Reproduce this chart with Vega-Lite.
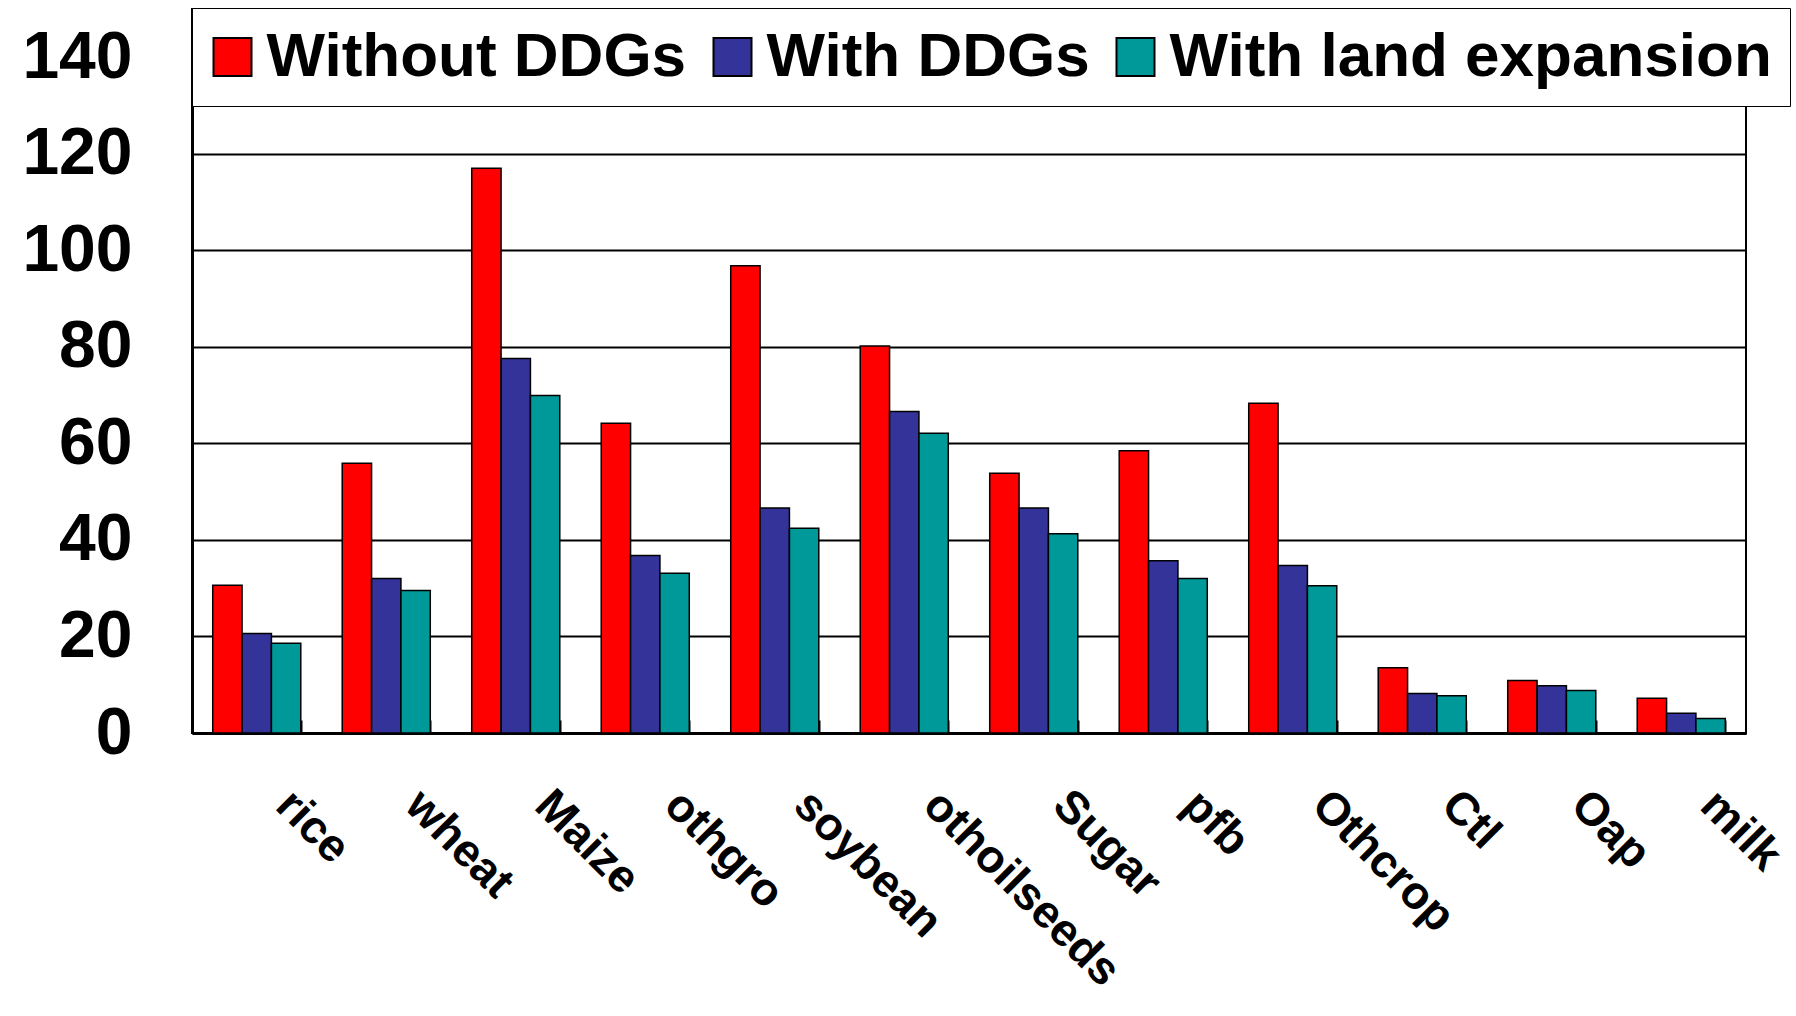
{
  "$schema": "https://vega.github.io/schema/vega-lite/v6.json",
  "width": 1554,
  "height": 724,
  "autosize": "none",
  "padding": {"left": 192, "top": 9, "right": 50, "bottom": 283},
  "background": "white",
  "config": {
    "font": "Liberation Sans",
    "view": {"stroke": "black", "strokeWidth": 2}
  },
  "data": {
    "values": [
      {"crop": "rice", "series": "Without DDGs", "value": 30.6},
      {"crop": "rice", "series": "With DDGs", "value": 20.6},
      {"crop": "rice", "series": "With land expansion", "value": 18.6},
      {"crop": "wheat", "series": "Without DDGs", "value": 55.9},
      {"crop": "wheat", "series": "With DDGs", "value": 32.0},
      {"crop": "wheat", "series": "With land expansion", "value": 29.5},
      {"crop": "Maize", "series": "Without DDGs", "value": 117.0},
      {"crop": "Maize", "series": "With DDGs", "value": 77.6},
      {"crop": "Maize", "series": "With land expansion", "value": 69.9},
      {"crop": "othgro", "series": "Without DDGs", "value": 64.2},
      {"crop": "othgro", "series": "With DDGs", "value": 36.8},
      {"crop": "othgro", "series": "With land expansion", "value": 33.1},
      {"crop": "soybean", "series": "Without DDGs", "value": 96.8},
      {"crop": "soybean", "series": "With DDGs", "value": 46.6},
      {"crop": "soybean", "series": "With land expansion", "value": 42.4},
      {"crop": "othoilseeds", "series": "Without DDGs", "value": 80.2},
      {"crop": "othoilseeds", "series": "With DDGs", "value": 66.6},
      {"crop": "othoilseeds", "series": "With land expansion", "value": 62.1},
      {"crop": "Sugar", "series": "Without DDGs", "value": 53.8},
      {"crop": "Sugar", "series": "With DDGs", "value": 46.6},
      {"crop": "Sugar", "series": "With land expansion", "value": 41.3},
      {"crop": "pfb", "series": "Without DDGs", "value": 58.5},
      {"crop": "pfb", "series": "With DDGs", "value": 35.7},
      {"crop": "pfb", "series": "With land expansion", "value": 32.0},
      {"crop": "Othcrop", "series": "Without DDGs", "value": 68.3},
      {"crop": "Othcrop", "series": "With DDGs", "value": 34.7},
      {"crop": "Othcrop", "series": "With land expansion", "value": 30.5},
      {"crop": "Ctl", "series": "Without DDGs", "value": 13.5},
      {"crop": "Ctl", "series": "With DDGs", "value": 8.2},
      {"crop": "Ctl", "series": "With land expansion", "value": 7.7},
      {"crop": "Oap", "series": "Without DDGs", "value": 10.9},
      {"crop": "Oap", "series": "With DDGs", "value": 9.8},
      {"crop": "Oap", "series": "With land expansion", "value": 8.8},
      {"crop": "milk", "series": "Without DDGs", "value": 7.2},
      {"crop": "milk", "series": "With DDGs", "value": 4.1},
      {"crop": "milk", "series": "With land expansion", "value": 3.0}
    ]
  },
  "mark": {"type": "bar", "stroke": "black", "strokeWidth": 1.5},
  "encoding": {
    "x": {
      "field": "crop",
      "type": "nominal",
      "sort": ["rice", "wheat", "Maize", "othgro", "soybean", "othoilseeds", "Sugar", "pfb", "Othcrop", "Ctl", "Oap", "milk"],
      "scale": {"paddingInner": 0.32, "paddingOuter": 0.16},
      "axis": {
        "title": null,
        "labelAngle": 45,
        "labelAlign": "left",
        "labelBaseline": "top",
        "labelFontSize": 46,
        "labelFontWeight": "bold",
        "labelColor": "black",
        "labelPadding": 62,
        "labelOffset": 42,
        "labelLimit": 1000,
        "tickBand": "extent",
        "tickSize": -13,
        "tickColor": "black",
        "tickWidth": 2,
        "domainColor": "black",
        "domainWidth": 3
      }
    },
    "xOffset": {
      "field": "series",
      "sort": ["Without DDGs", "With DDGs", "With land expansion"]
    },
    "y": {
      "field": "value",
      "type": "quantitative",
      "scale": {"domain": [0, 150], "nice": false},
      "axis": {
        "title": null,
        "values": [0, 20, 40, 60, 80, 100, 120, 140],
        "labelFontSize": 66,
        "labelFontWeight": "bold",
        "labelColor": "black",
        "labelPadding": 60,
        "ticks": false,
        "grid": true,
        "gridColor": "black",
        "gridWidth": 2,
        "gridOpacity": 1,
        "domainColor": "black",
        "domainWidth": 3
      }
    },
    "color": {
      "field": "series",
      "type": "nominal",
      "scale": {
        "domain": ["Without DDGs", "With DDGs", "With land expansion"],
        "range": ["#FF0000", "#333399", "#009999"]
      },
      "legend": {
        "title": null,
        "orient": "none",
        "legendX": 0,
        "legendY": -1,
        "direction": "horizontal",
        "fillColor": "white",
        "strokeColor": "black",
        "padding": 18,
        "symbolType": "square",
        "symbolSize": 1444,
        "symbolStrokeColor": "black",
        "symbolStrokeWidth": 2,
        "symbolOpacity": 1,
        "symbolOffset": -8.5,
        "labelFontSize": 62,
        "labelFontWeight": "bold",
        "labelColor": "black",
        "labelOffset": 3,
        "labelLimit": 1000,
        "columnPadding": 22
      }
    }
  }
}
